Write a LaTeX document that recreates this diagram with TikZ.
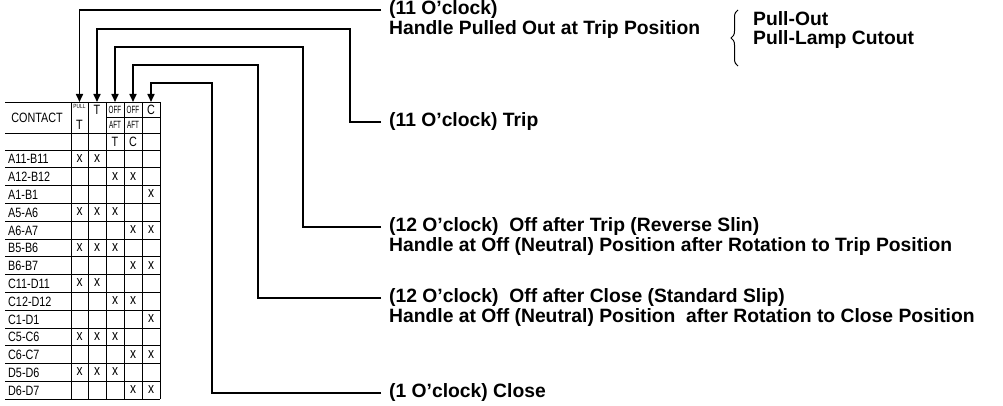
\documentclass[tikz,border=0pt]{standalone}
\usepackage{fontspec}
\setmainfont{Liberation Sans}
\newfontfamily\tabfont[FakeStretch=0.8]{Liberation Sans}
\newfontfamily\narrowfont[FakeStretch=0.6]{Liberation Sans}
\usetikzlibrary{arrows.meta,decorations.pathreplacing}
\begin{document}
\begin{tikzpicture}[x=1pt,y=-1pt,
  conn/.style={line width=1.6pt,-{Triangle[length=8pt,width=7pt]}},
  gridline/.style={line width=0.8pt},
  lab/.style={anchor=west,inner sep=0pt,font=\fontsize{19.3}{20}\selectfont\bfseries},
  cell/.style={inner sep=0pt,font=\tabfont\fontsize{13.5}{13.5}\selectfont},
  xmark/.style={inner sep=0pt,font=\tabfont\fontsize{15}{15}\selectfont},
  narrow/.style={inner sep=0pt,font=\narrowfont\fontsize{10.5}{10.5}\selectfont},
  rowlab/.style={cell,anchor=west},
  tiny/.style={inner sep=0pt,font=\tabfont\fontsize{6}{6}\selectfont}]
\useasboundingbox (0,0) rectangle (1003,406);
% table grid
\def\rh{17.8}
\draw[gridline] (5,102) -- (160,102);
\draw[gridline] (106,117) -- (160,117);
\draw[gridline] (5,133) -- (160,133);
\foreach \i in {0,...,14} \draw[gridline] (5,150+\rh*\i) -- (160,150+\rh*\i);
\foreach \x in {71,88,106,124,142,160} \draw[gridline] (\x,102) -- (\x,150+\rh*14);
% header
\node[cell] (hc) at (37,117.5) {CONTACT};
\node[tiny] (hp) at (79.5,106.5) {PULL};
\node[cell] (hpt) at (79.5,124.5) {T};
\node[cell] (ht) at (97,109.5) {T};
\node[narrow] (ho1) at (115,109.5) {OFF};
\node[narrow] (ho2) at (133,109.5) {OFF};
\node[narrow] (ha1) at (115,125) {AFT};
\node[narrow] (ha2) at (133,125) {AFT};
\node[cell] (hc1) at (115,141.5) {T};
\node[cell] (hc2) at (133,141.5) {C};
\node[cell] (hcc) at (151,109.5) {C};
% rows
\def\cx#1{\ifcase#1\or79.5\or97\or115\or133\or151\fi}
\foreach \lab/\marks [count=\r from 0] in {A11-B11/{1,2},A12-B12/{3,4},A1-B1/{5},A5-A6/{1,2,3},A6-A7/{4,5},B5-B6/{1,2,3},B6-B7/{4,5},C11-D11/{1,2},C12-D12/{3,4},C1-D1/{5},C5-C6/{1,2,3},C6-C7/{4,5},D5-D6/{1,2,3},D6-D7/{4,5}}{
  \node[rowlab] (r\r) at (8,150+\rh*\r+\rh/2+0.3) {\lab};
  \foreach \m in \marks {\node[xmark] (x\r-\m) at (\cx{\m},150+\rh*\r+\rh/2-0.6) {x};}
}
% arrow targets
\coordinate (c1) at (79.5,102);
\coordinate (c2) at (97,102);
\coordinate (c3) at (115,102);
\coordinate (c4) at (133,102);
\coordinate (c5) at (151,102);
% labels
\node[lab] (L1a) at (389,10) {(11 O’clock)};
\node[lab] (L1b) at (389,29.5) {Handle Pulled Out at Trip Position};
\node[lab] (L2) at (389,122) {(11 O’clock) Trip};
\node[lab] (L3a) at (389,227) {(12 O’clock)\ \ Off after Trip (Reverse Slin)};
\node[lab] (L3b) at (389,247) {Handle at Off (Neutral) Position after Rotation to Trip Position};
\node[lab] (L4a) at (389,298) {(12 O’clock)\ \ Off after Close (Standard Slip)};
\node[lab] (L4b) at (389,318) {Handle at Off (Neutral) Position\ \ after Rotation to Close Position};
\node[lab] (L5) at (389,393) {(1 O’clock) Close};
\node[lab,align=left,font=\fontsize{19.3}{19}\selectfont\bfseries] (P) at (753,30) {Pull-Out\\Pull-Lamp Cutout};
\draw[line width=1pt,decorate,decoration={brace,amplitude=7pt}] (738,66) -- (738,10);
% bends
\coordinate (b2) at (350,29);
\coordinate (b3) at (303,47);
\coordinate (b4) at (258,65);
\coordinate (b5) at (212,83);
% connectors
\draw[conn] ([xshift=-8pt]L1a.west) -| (c1);
\draw[conn] ([xshift=-8pt]L2.west) -| (b2) -| (c2);
\draw[conn] ([xshift=-8pt]L3a.west) -| (b3) -| (c3);
\draw[conn] ([xshift=-8pt]L4a.west) -| (b4) -| (c4);
\draw[conn] ([xshift=-8pt]L5.west) -| (b5) -| (c5);
\end{tikzpicture}
\end{document}
